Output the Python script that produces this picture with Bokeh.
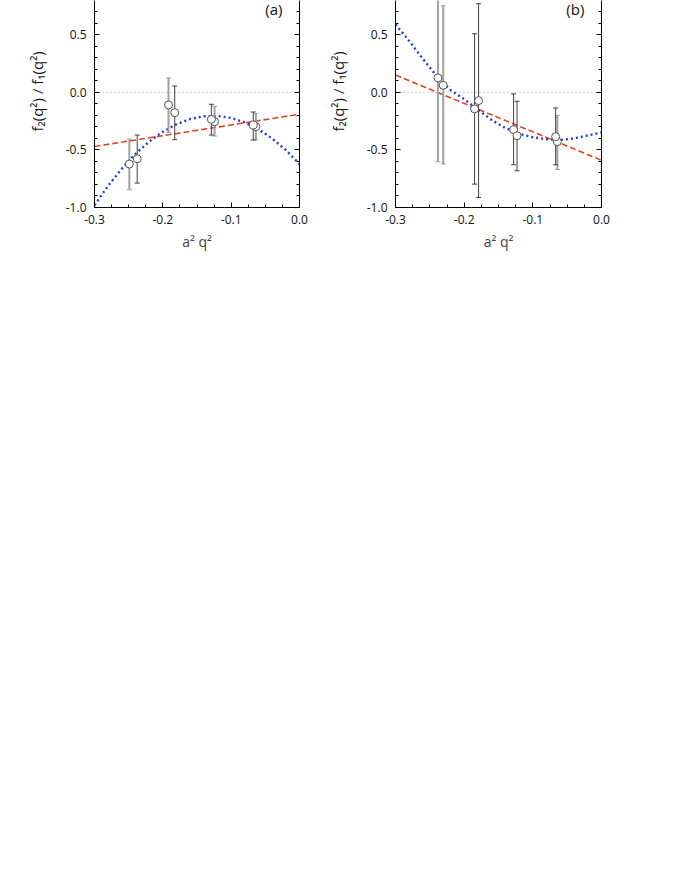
from bokeh.plotting import figure
from bokeh.layouts import row
from bokeh.models import (Range1d, FixedTicker, LinearAxis, Title,
                          NumeralTickFormatter, CustomJSTickFormatter)
from bokeh.core.properties import value
from bokeh.embed import file_html
from bokeh.resources import INLINE

# ---------------- data ----------------
x_ticks = [-0.3, -0.2, -0.1, 0.0]
x_minor = [-0.3 + 0.025 * i for i in range(13)]
y_ticks = [-1.0, -0.5, 0.0, 0.5]
y_minor = [round(-1.0 + 0.1 * i, 2) for i in range(20)]

# panel (a)
a_set1_x = [-0.249, -0.1917, -0.1243, -0.0638]
a_set1_y = [-0.623, -0.110, -0.255, -0.298]
a_set1_lo = [-0.846, -0.348, -0.380, -0.414]
a_set1_hi = [-0.405, 0.125, -0.122, -0.185]
a_set2_x = [-0.2375, -0.1826, -0.129, -0.0677]
a_set2_y = [-0.577, -0.177, -0.235, -0.284]
a_set2_lo = [-0.788, -0.411, -0.371, -0.414]
a_set2_hi = [-0.371, 0.055, -0.104, -0.171]
a_lin_x = [-0.3, 0.0]
a_lin_y = [-0.47, -0.19]
a_quad_x = [-0.30, -0.28, -0.26, -0.24, -0.22, -0.20, -0.18, -0.16,
            -0.14, -0.12, -0.10, -0.08, -0.06, -0.04, -0.02, 0.00]
a_quad_y = [-0.980, -0.811, -0.663, -0.535, -0.428, -0.342, -0.277, -0.232,
            -0.208, -0.205, -0.223, -0.261, -0.321, -0.401, -0.501, -0.623]

# panel (b)
b_set1_x = [-0.2382, -0.2305, -0.0643]
b_set1_y = [0.125, 0.061, -0.429]
b_set1_lo = [-0.603, -0.623, -0.670]
b_set1_hi = [0.900, 0.751, -0.200]
b_set2_x = [-0.1848, -0.179, -0.128, -0.123, -0.0668]
b_set2_y = [-0.144, -0.072, -0.324, -0.377, -0.385]
b_set2_lo = [-0.797, -0.913, -0.629, -0.681, -0.629]
b_set2_hi = [0.508, 0.769, -0.014, -0.078, -0.136]
b_lin_x = [-0.3, 0.0]
b_lin_y = [0.15, -0.59]
b_quad_x = [-0.30, -0.28, -0.26, -0.24, -0.22, -0.20, -0.18, -0.16,
            -0.14, -0.12, -0.10, -0.08, -0.06, -0.04, -0.02, 0.00]
b_quad_y = [0.590, 0.445, 0.290, 0.140, 0.020, -0.060, -0.150, -0.240,
            -0.310, -0.360, -0.390, -0.407, -0.414, -0.400, -0.375, -0.348]

FONT = "Open Sans"
RED = "#e8401c"
BLUE = "#1f3fd2"


def make_panel(tag, s1, s2, lin, quad, left_border, fw):
    p = figure(frame_width=fw, frame_height=207,
               x_range=Range1d(-0.3, 0.0), y_range=Range1d(-1.0, 0.797),
               output_backend="svg", toolbar_location=None,
               min_border_left=left_border, min_border_right=10,
               min_border_top=0, min_border_bottom=55,
               background_fill_color="white", border_fill_color="white")
    p.outline_line_color = None
    p.xgrid.visible = False
    p.ygrid.visible = False

    for ax in (p.xaxis[0], p.yaxis[0]):
        ax.major_tick_in = 5
        ax.major_tick_out = 0
        ax.minor_tick_in = 3
        ax.minor_tick_out = 0
        ax.axis_line_color = "black"
        ax.major_tick_line_color = "black"
        ax.minor_tick_line_color = "black"
        ax.major_label_text_font = FONT
        ax.major_label_text_font_size = "12px"
        ax.major_label_text_color = "#111111"
        ax.axis_label_text_font = FONT
        ax.axis_label_text_font_style = "normal"
        ax.axis_label_text_font_size = "14px"
        ax.formatter = NumeralTickFormatter(format="0.0")

    p.xaxis.ticker = FixedTicker(ticks=x_ticks, minor_ticks=x_minor)
    p.yaxis.ticker = FixedTicker(ticks=y_ticks, minor_ticks=y_minor)
    p.xaxis.major_label_standoff = 7
    p.xaxis.axis_label = "a² q²"
    p.xaxis.axis_label_standoff = 5
    p.yaxis.major_label_standoff = 8

    ra = LinearAxis(ticker=FixedTicker(ticks=y_ticks, minor_ticks=y_minor))
    ra.major_tick_in = 5
    ra.major_tick_out = 0
    ra.minor_tick_in = 3
    ra.minor_tick_out = 0
    ra.formatter = CustomJSTickFormatter(code="return ''")
    ra.major_label_standoff = 0
    ra.axis_line_color = "black"
    p.add_layout(ra, "right")

    ytitle = Title(text="f₂(q²) / f₁(q²)", align="left",
                   text_font=FONT, text_font_size="15px",
                   text_font_style="normal", text_color="#111111",
                   offset=76, standoff=32)
    p.add_layout(ytitle, "left")

    # zero reference line
    p.line(x=[-0.3, 0.0], y=[0.0, 0.0], line_color="#9a9a9a",
           line_width=1, line_dash="1 3")

    # fits
    p.line(x=lin[0], y=lin[1], line_color=RED, line_width=1.6,
           line_dash="6 3")
    p.line(x=quad[0], y=quad[1], line_color=BLUE, line_width=2.4,
           line_dash="2 3")

    # error bars + points
    for (xs, ys, lo, hi), col, lw in ((s1, "#a0a0a0", 2.0), (s2, "#404040", 1.0)):
        p.segment(x0=xs, y0=lo, x1=xs, y1=hi, line_color=col, line_width=lw)
        p.scatter(x=xs, y=lo, marker="dash", size=5, line_color=col, line_width=1)
        p.scatter(x=xs, y=hi, marker="dash", size=5, line_color=col, line_width=1)
    for (xs, ys, lo, hi) in (s1, s2):
        p.scatter(x=xs, y=ys, marker="circle", size=8, fill_color="white",
                  line_color="#505050", line_width=1)

    p.text(x=[-0.025], y=[0.72], text=[tag], text_align="right",
           text_baseline="alphabetic", text_font=value(FONT),
           text_font_size="15px", text_color="#111111")
    return p


pa = make_panel("(a)",
                (a_set1_x, a_set1_y, a_set1_lo, a_set1_hi),
                (a_set2_x, a_set2_y, a_set2_lo, a_set2_hi),
                (a_lin_x, a_lin_y), (a_quad_x, a_quad_y), 94, 205)
pb = make_panel("(b)",
                (b_set1_x, b_set1_y, b_set1_lo, b_set1_hi),
                (b_set2_x, b_set2_y, b_set2_lo, b_set2_hi),
                (b_lin_x, b_lin_y), (b_quad_x, b_quad_y), 80, 206)

layout = row(pa, pb)
open("out.html", "w").write(file_html(layout, INLINE))
